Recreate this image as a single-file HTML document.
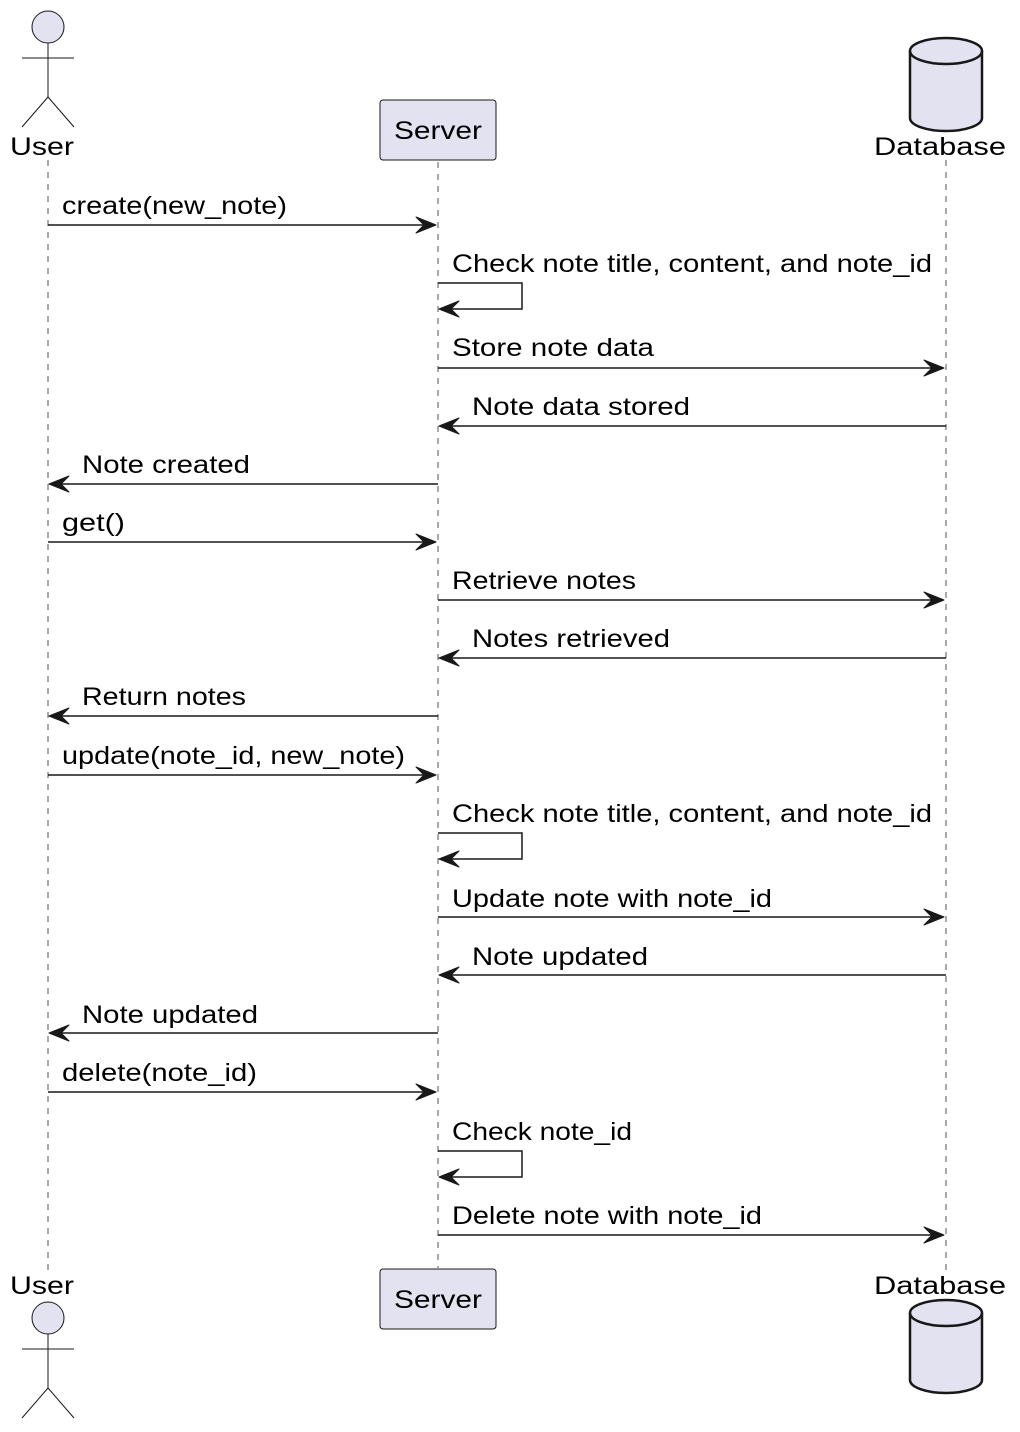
<!DOCTYPE html>
<html><head><meta charset="utf-8"><style>html,body{margin:0;padding:0;background:#fff}svg{display:block}</style></head>
<body>
<svg width="1020" height="1432" viewBox="0 0 1020 1432" xmlns="http://www.w3.org/2000/svg" font-family="Liberation Sans, sans-serif" font-size="25">
<defs>
<g id="ar"><polygon points="0,0 -20,-8 -12,0 -20,8" fill="#181818" stroke="#181818" stroke-width="1" stroke-linejoin="round"/></g>
<g id="al"><polygon points="0,0 20,-8 12,0 20,8" fill="#181818" stroke="#181818" stroke-width="1" stroke-linejoin="round"/></g>
</defs>
<g stroke="#555" stroke-width="1" stroke-dasharray="6,6">
<line x1="48" y1="160" x2="48" y2="1270"/>
<line x1="438" y1="162" x2="438" y2="1268"/>
<line x1="946" y1="160" x2="946" y2="1270"/>
</g>
<g stroke="#181818" stroke-width="1" fill="#E2E2F0">
<circle cx="48" cy="27" r="16"/>
<line x1="48" y1="43" x2="48" y2="97"/><line x1="22" y1="58" x2="74" y2="58"/>
<line x1="48" y1="97" x2="22" y2="127"/><line x1="48" y1="97" x2="74" y2="127"/>
<circle cx="48" cy="1318" r="16"/>
<line x1="48" y1="1334" x2="48" y2="1388"/><line x1="22" y1="1349" x2="74" y2="1349"/>
<line x1="48" y1="1388" x2="22" y2="1418"/><line x1="48" y1="1388" x2="74" y2="1418"/>
<rect x="380" y="100" width="116" height="60" rx="3"/>
<rect x="380" y="1269" width="116" height="60" rx="3"/>
</g>
<g stroke="#181818" stroke-width="2.5" fill="#E2E2F0">
<path d="M910,51 A36,13 0 0 1 982,51 L982,118 A36,13 0 0 1 910,118 Z"/>
<path d="M910,51 A36,13 0 0 0 982,51" fill="none"/>
<path d="M910,1313 A36,13 0 0 1 982,1313 L982,1380 A36,13 0 0 1 910,1380 Z"/>
<path d="M910,1313 A36,13 0 0 0 982,1313" fill="none"/>
</g>
<g fill="#000" lengthAdjust="spacingAndGlyphs">
<text x="10" y="155" textLength="64" lengthAdjust="spacingAndGlyphs">User</text>
<text x="10" y="1294" textLength="64" lengthAdjust="spacingAndGlyphs">User</text>
<text x="394" y="139" textLength="88" lengthAdjust="spacingAndGlyphs">Server</text>
<text x="394" y="1308" textLength="88" lengthAdjust="spacingAndGlyphs">Server</text>
<text x="874" y="155" textLength="132" lengthAdjust="spacingAndGlyphs">Database</text>
<text x="874" y="1294" textLength="132" lengthAdjust="spacingAndGlyphs">Database</text>
</g>
<g stroke="#181818" stroke-width="1.5" fill="none">
<line x1="48" y1="225" x2="430" y2="225"/>
<polyline points="438,283 522,283 522,309 446,309"/>
<line x1="438" y1="368" x2="938" y2="368"/>
<line x1="946" y1="426" x2="446" y2="426"/>
<line x1="438" y1="484" x2="56" y2="484"/>
<line x1="48" y1="542" x2="430" y2="542"/>
<line x1="438" y1="600" x2="938" y2="600"/>
<line x1="946" y1="658" x2="446" y2="658"/>
<line x1="438" y1="716" x2="56" y2="716"/>
<line x1="48" y1="775" x2="430" y2="775"/>
<polyline points="438,833 522,833 522,859 446,859"/>
<line x1="438" y1="917" x2="938" y2="917"/>
<line x1="946" y1="975" x2="446" y2="975"/>
<line x1="438" y1="1033" x2="56" y2="1033"/>
<line x1="48" y1="1092" x2="430" y2="1092"/>
<polyline points="438,1151 522,1151 522,1177 446,1177"/>
<line x1="438" y1="1235" x2="938" y2="1235"/>
</g>
<use href="#ar" x="436" y="225"/>
<use href="#al" x="439" y="309"/>
<use href="#ar" x="944" y="368"/>
<use href="#al" x="439" y="426"/>
<use href="#al" x="49" y="484"/>
<use href="#ar" x="436" y="542"/>
<use href="#ar" x="944" y="600"/>
<use href="#al" x="439" y="658"/>
<use href="#al" x="49" y="716"/>
<use href="#ar" x="436" y="775"/>
<use href="#al" x="439" y="859"/>
<use href="#ar" x="944" y="917"/>
<use href="#al" x="439" y="975"/>
<use href="#al" x="49" y="1033"/>
<use href="#ar" x="436" y="1092"/>
<use href="#al" x="439" y="1177"/>
<use href="#ar" x="944" y="1235"/>
<g fill="#000">
<text x="62" y="214" textLength="225" lengthAdjust="spacingAndGlyphs">create(new_note)</text>
<text x="452" y="272" textLength="480" lengthAdjust="spacingAndGlyphs">Check note title, content, and note_id</text>
<text x="452" y="356" textLength="202" lengthAdjust="spacingAndGlyphs">Store note data</text>
<text x="472" y="415" textLength="218" lengthAdjust="spacingAndGlyphs">Note data stored</text>
<text x="82" y="473" textLength="168" lengthAdjust="spacingAndGlyphs">Note created</text>
<text x="62" y="531" textLength="63" lengthAdjust="spacingAndGlyphs">get()</text>
<text x="452" y="589" textLength="184" lengthAdjust="spacingAndGlyphs">Retrieve notes</text>
<text x="472" y="647" textLength="198" lengthAdjust="spacingAndGlyphs">Notes retrieved</text>
<text x="82" y="705" textLength="164" lengthAdjust="spacingAndGlyphs">Return notes</text>
<text x="62" y="764" textLength="343" lengthAdjust="spacingAndGlyphs">update(note_id, new_note)</text>
<text x="452" y="822" textLength="480" lengthAdjust="spacingAndGlyphs">Check note title, content, and note_id</text>
<text x="452" y="907" textLength="320" lengthAdjust="spacingAndGlyphs">Update note with note_id</text>
<text x="472" y="965" textLength="176" lengthAdjust="spacingAndGlyphs">Note updated</text>
<text x="82" y="1023" textLength="176" lengthAdjust="spacingAndGlyphs">Note updated</text>
<text x="62" y="1081" textLength="195" lengthAdjust="spacingAndGlyphs">delete(note_id)</text>
<text x="452" y="1140" textLength="180" lengthAdjust="spacingAndGlyphs">Check note_id</text>
<text x="452" y="1224" textLength="310" lengthAdjust="spacingAndGlyphs">Delete note with note_id</text>
</g>
</svg>
</body></html>
